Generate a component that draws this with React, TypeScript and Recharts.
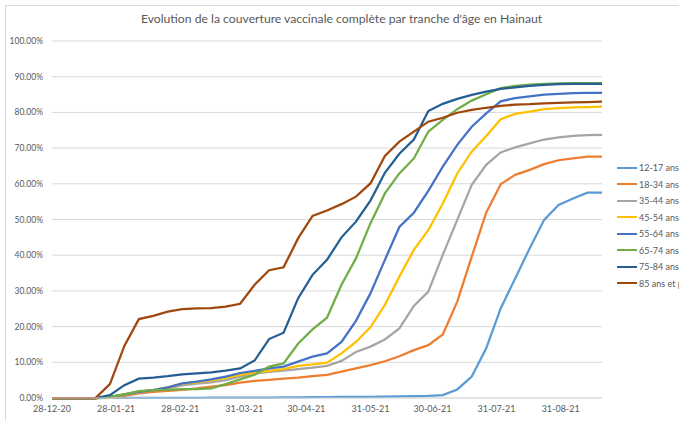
import { LineChart, Line, XAxis, YAxis, CartesianGrid } from "recharts";

// weekly dates (dd-mm-yy)
const dates = [
  "28-12-20", "04-01-21", "11-01-21", "18-01-21", "25-01-21", "01-02-21", "08-02-21",
  "15-02-21", "22-02-21", "01-03-21", "08-03-21", "15-03-21", "22-03-21", "29-03-21",
  "05-04-21", "12-04-21", "19-04-21", "26-04-21", "03-05-21", "10-05-21", "17-05-21",
  "24-05-21", "31-05-21", "07-06-21", "14-06-21", "21-06-21", "28-06-21", "05-07-21",
  "12-07-21", "19-07-21", "26-07-21", "02-08-21", "09-08-21", "16-08-21", "23-08-21",
  "30-08-21", "06-09-21", "13-09-21", "20-09-21",
];

const tickLabels = [
  "28-12-20", "28-01-21", "28-02-21", "31-03-21", "30-04-21",
  "31-05-21", "30-06-21", "31-07-21", "31-08-21",
];

const yTicks = [0, 10, 20, 30, 40, 50, 60, 70, 80, 90, 100];

const ageGroups = [
  "12-17 ans", "18-34 ans", "35-44 ans", "45-54 ans",
  "55-64 ans", "65-74 ans", "75-84 ans", "85 ans et plus",
];

// % fully vaccinated, one value per week
const age12_17 = [
  0, 0, 0, 0, 0.01, 0.02, 0.03, 0.04, 0.05, 0.06, 0.07, 0.08, 0.09, 0.1, 0.12, 0.14,
  0.16, 0.2, 0.25, 0.28, 0.3, 0.32, 0.35, 0.4, 0.45, 0.5, 0.6, 0.8, 2.4, 6.0, 13.9,
  25.1, 33.5, 41.9, 49.9, 54.1, 55.9, 57.5, 57.5,
];
const age18_34 = [
  0, 0, 0, 0, 0.1, 0.6, 1.3, 1.7, 2.0, 2.3, 2.7, 3.2, 3.6, 4.3, 4.8, 5.1, 5.4, 5.7,
  6.1, 6.5, 7.4, 8.3, 9.2, 10.3, 11.7, 13.4, 14.8, 17.8, 27.0, 39.6, 51.9, 59.9,
  62.5, 63.9, 65.5, 66.6, 67.1, 67.6, 67.6,
];
const age35_44 = [
  0, 0, 0, 0, 0.2, 0.9, 1.6, 2.1, 2.7, 3.5, 4.0, 4.4, 5.0, 6.0, 6.8, 7.3, 7.7, 8.1,
  8.5, 9.0, 10.4, 12.9, 14.4, 16.4, 19.5, 25.8, 29.8, 40.1, 49.9, 59.7, 65.3, 68.8,
  70.2, 71.3, 72.4, 73.0, 73.4, 73.6, 73.7,
];
const age45_54 = [
  0, 0, 0, 0, 0.3, 1.0, 1.7, 2.3, 3.0, 4.0, 4.4, 4.9, 5.6, 6.5, 7.1, 7.6, 8.1, 9.0,
  9.4, 9.9, 12.5, 15.7, 19.8, 26.1, 34.0, 41.5, 47.0, 54.5, 62.9, 69.0, 73.4, 78.1,
  79.6, 80.2, 80.9, 81.2, 81.4, 81.5, 81.6,
];
const age55_64 = [
  0, 0, 0, 0, 0.3, 1.0, 1.7, 2.2, 3.0, 4.1, 4.6, 5.2, 6.0, 7.0, 7.6, 8.3, 8.8, 10.2,
  11.6, 12.5, 15.7, 21.6, 29.3, 38.7, 47.9, 51.9, 58.0, 64.8, 70.9, 76.0, 79.7, 83.1,
  84.0, 84.5, 85.0, 85.2, 85.4, 85.5, 85.5,
];
const age65_74 = [
  0, 0, 0, 0, 0.3, 1.0, 1.9, 2.2, 2.3, 2.5, 2.5, 2.7, 3.9, 5.2, 6.5, 8.8, 9.7, 15.2,
  19.2, 22.5, 31.7, 39.1, 48.9, 57.3, 62.9, 67.1, 74.6, 77.9, 80.9, 83.3, 85.1, 86.8,
  87.4, 87.8, 88.0, 88.1, 88.2, 88.2, 88.2,
];
const age75_84 = [
  0, 0, 0, 0, 0.8, 3.6, 5.4, 5.7, 6.1, 6.6, 6.9, 7.2, 7.7, 8.3, 10.5, 16.5, 18.3, 27.9,
  34.5, 38.7, 45.0, 49.4, 55.3, 63.1, 68.4, 72.4, 80.4, 82.4, 83.8, 84.9, 85.8, 86.6,
  87.0, 87.4, 87.7, 87.9, 88.0, 88.0, 88.0,
];
const age85plus = [
  0, 0, 0, 0, 3.9, 14.6, 22.1, 23.0, 24.2, 24.9, 25.1, 25.2, 25.6, 26.4, 31.7, 35.8,
  36.6, 44.7, 51.0, 52.5, 54.3, 56.4, 60.1, 67.8, 71.8, 74.6, 77.4, 78.5, 79.9, 80.7,
  81.3, 81.8, 82.2, 82.3, 82.5, 82.7, 82.8, 82.9, 83.0,
];

const seriesValues = [
  age12_17, age18_34, age35_44, age45_54, age55_64, age65_74, age75_84, age85plus,
];
const colors = [
  "#5B9BD5", "#ED7D31", "#A5A5A5", "#FFC000", "#4472C4", "#70AD47", "#255E91", "#9E480E",
];

const toDay = (s: string) => {
  const [d, m, y] = s.split("-").map(Number);
  return Date.UTC(2000 + y, m - 1, d) / 86400000;
};
const day0 = toDay(dates[0]);
const tickDays = tickLabels.map((t) => toDay(t) - day0);
const lastDay = toDay(dates[dates.length - 1]) - day0;

const data = dates.map((d, i) => {
  const row: Record<string, number> = { day: toDay(d) - day0 };
  seriesValues.forEach((vals, s) => {
    row["s" + s] = vals[i];
  });
  return row;
});

const font = "Lato, 'Open Sans', sans-serif";
const textColor = "#595959";

export default function App() {
  return (
    <div
      style={{
        position: "absolute",
        left: 0,
        top: 0,
        width: 679,
        height: 421,
        overflow: "hidden",
        background: "#fff",
        fontFamily: font,
      }}
    >
      <div
        style={{
          position: "absolute",
          left: 5,
          top: 5,
          width: 700,
          height: 440,
          border: "1px solid #D9D9D9",
        }}
      />
      <div
        style={{
          position: "absolute",
          left: 2,
          top: 10,
          width: 679,
          textAlign: "center",
          fontSize: 12.2,
          lineHeight: "18px",
          color: textColor,
        }}
      >
        Evolution de la couverture vaccinale complète par tranche d'âge en Hainaut
      </div>
      <div style={{ position: "absolute", left: 0, top: 0 }}>
        <LineChart
          width={679}
          height={421}
          data={data}
          margin={{ top: 41, right: 77, bottom: 0, left: 0 }}
        >
          <CartesianGrid vertical={false} stroke="#D9D9D9" strokeWidth={1} />
          <XAxis
            type="number"
            dataKey="day"
            domain={[0, lastDay]}
            ticks={tickDays}
            tickFormatter={(v: number) => tickLabels[tickDays.indexOf(v)] ?? ""}
            interval={0}
            height={23}
            axisLine={{ stroke: "#D9D9D9" }}
            tickLine={false}
            tickSize={0}
            tickMargin={8}
            tick={{ fontSize: 9, fill: textColor, fontFamily: font }}
          />
          <YAxis
            type="number"
            domain={[0, 100]}
            ticks={yTicks}
            interval={0}
            width={52}
            axisLine={false}
            tickLine={false}
            tickSize={0}
            tickMargin={9}
            tickFormatter={(v: number) => v.toFixed(2) + "%"}
            tick={{ fontSize: 8.5, fill: textColor, fontFamily: font }}
          />
          {ageGroups.map((name, s) => (
            <Line
              key={name}
              type="linear"
              dataKey={"s" + s}
              name={name}
              stroke={colors[s]}
              strokeWidth={2.25}
              dot={false}
              activeDot={false}
              isAnimationActive={false}
            />
          ))}
        </LineChart>
      </div>
      <div style={{ position: "absolute", left: 617, top: 159.5 }}>
        {ageGroups.map((name, s) => (
          <div
            key={name}
            style={{
              display: "flex",
              alignItems: "center",
              height: 16.5,
              whiteSpace: "nowrap",
              fontSize: 9,
              color: textColor,
            }}
          >
            <div style={{ width: 20, height: 2.25, background: colors[s], marginRight: 2 }} />
            <span>{name}</span>
          </div>
        ))}
      </div>
    </div>
  );
}
